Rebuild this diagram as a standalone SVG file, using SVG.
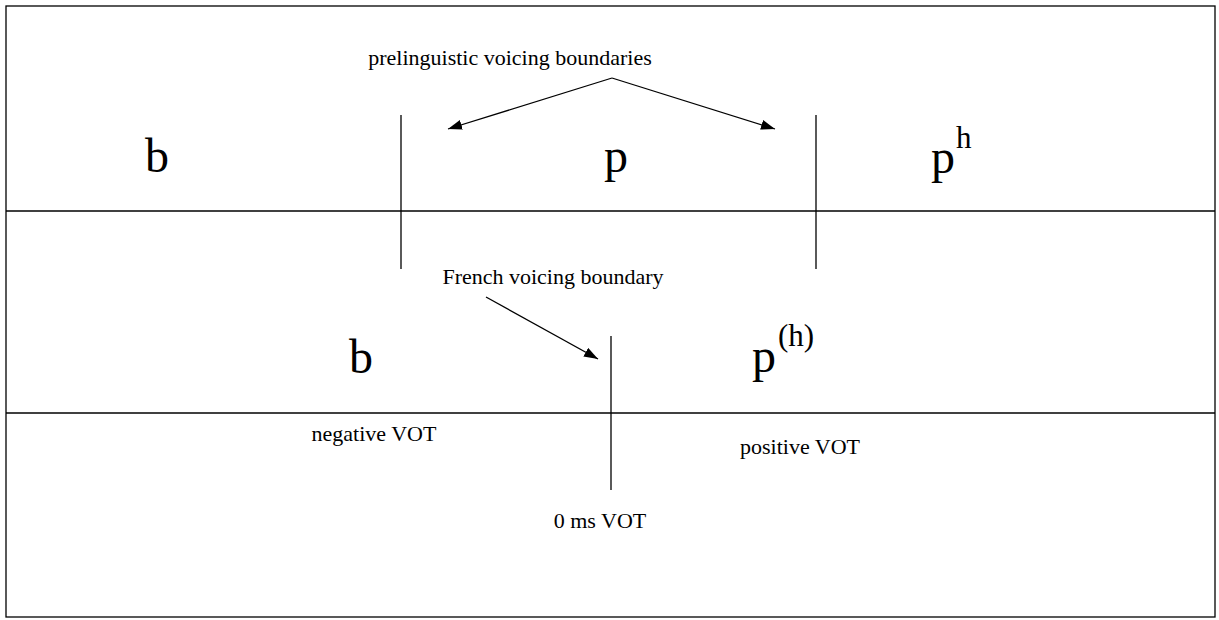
<svg xmlns="http://www.w3.org/2000/svg" width="1219" height="620" viewBox="0 0 1219 620">
<style>
.ln{stroke:#000;stroke-width:1.3;fill:none}
.t{font-family:"Liberation Serif","Times New Roman",serif;fill:#000}
.lab{font-size:22px}
.big{font-size:48px}
.sup{font-size:31px}
</style>
<defs>
<marker id="ah" markerUnits="userSpaceOnUse" markerWidth="14" markerHeight="10" refX="14" refY="5" orient="auto">
<path d="M0,0 L14,5 L0,10 z" fill="#000"/>
</marker>
</defs>
<rect x="0" y="0" width="1219" height="620" fill="#fff"/>
<g id="frame">
<rect x="6" y="6" width="1209" height="611" class="ln" stroke-width="1.5"/>
<line x1="6" y1="211" x2="1215" y2="211" class="ln"/>
<line x1="6" y1="413" x2="1215" y2="413" class="ln"/>
</g>
<g id="boundary-left"><line x1="401" y1="115" x2="401" y2="269" class="ln"/></g>
<g id="boundary-right"><line x1="816" y1="115" x2="816" y2="269" class="ln"/></g>
<g id="boundary-french"><line x1="611" y1="336" x2="611" y2="490" class="ln"/></g>
<g id="connectors">
<line x1="612" y1="78" x2="448" y2="129" class="ln" marker-end="url(#ah)"/>
<line x1="612" y1="78" x2="775" y2="129" class="ln" marker-end="url(#ah)"/>
<line x1="486" y1="297" x2="598" y2="359" class="ln" marker-end="url(#ah)"/>
</g>
<g id="label-prelinguistic"><text class="t lab" x="510" y="65" text-anchor="middle">prelinguistic voicing boundaries</text></g>
<g id="label-french"><text class="t lab" x="553" y="284" text-anchor="middle">French voicing boundary</text></g>
<g id="label-negative"><text class="t lab" x="374" y="441" text-anchor="middle">negative VOT</text></g>
<g id="label-positive"><text class="t lab" x="800" y="454" text-anchor="middle">positive VOT</text></g>
<g id="label-zero"><text class="t lab" x="600" y="528" text-anchor="middle">0 ms VOT</text></g>
<g id="b-top"><text class="t big" x="145" y="172">b</text></g>
<g id="p-top"><text class="t big" x="604" y="172">p</text></g>
<g id="ph-top"><text class="t big" x="931" y="173">p</text><text class="t sup" x="956" y="148">h</text></g>
<g id="b-bottom"><text class="t big" x="349" y="373">b</text></g>
<g id="ph-bottom"><text class="t big" x="752" y="372">p</text><text class="t sup" x="778" y="346">(h)</text></g>
</svg>
